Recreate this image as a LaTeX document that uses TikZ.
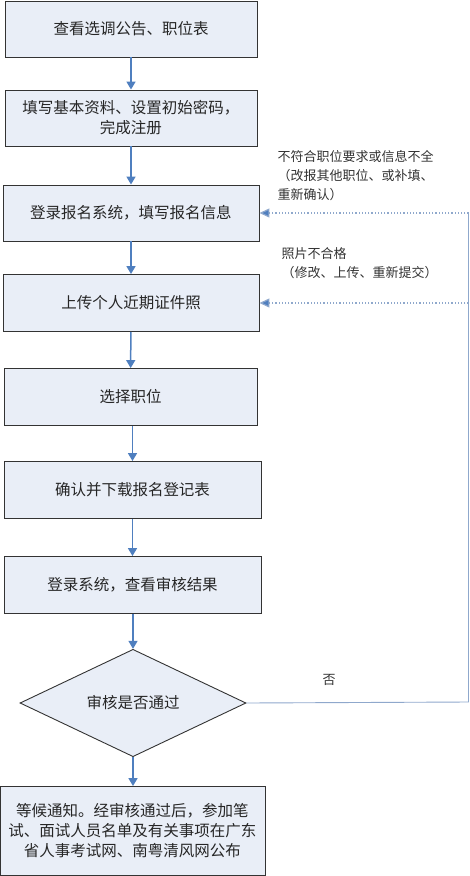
\documentclass[tikz,border=0pt]{standalone}
\usepackage{fontspec}
\usepackage{xcolor}
\usepackage{tikz}
\usetikzlibrary{arrows.meta,shapes.geometric}
\newfontfamily\cjk{Noto Sans CJK SC}
\definecolor{boxfill}{HTML}{E9EEF7}
\definecolor{flowblue}{HTML}{4F7FBF}
\definecolor{backline}{HTML}{8FA8CC}

\begin{document}
\begin{tikzpicture}[
  x=1pt, y=-1pt,
  font=\cjk\fontsize{15.5}{20}\selectfont,
  box/.style={draw=black!80, fill=boxfill, line width=0.9pt, align=center, inner sep=0pt, text=black!85},
  flow/.style={-{Triangle[length=8pt,width=9pt]}, line width=1.5pt, draw=flowblue},
  back/.style={line width=0.9pt, draw=backline},
  t/.style={font=\cjk\fontsize{13}{19}\selectfont, text=black!80, align=left, anchor=north west},
]
\useasboundingbox (0,0) rectangle (470,876);
\node[box, minimum width=252pt, minimum height=56pt] (look) at (131,29) {查看选调公告、职位表};
\node[box, minimum width=252pt, minimum height=56pt] (reg) at (131,118) {填写基本资料、设置初始密码，\\完成注册};
\node[box, minimum width=256pt, minimum height=56pt] (login) at (131,213) {登录报名系统，填写报名信息};
\node[box, minimum width=256pt, minimum height=57pt] (photo) at (131,303) {上传个人近期证件照};
\node[box, minimum width=253pt, minimum height=57pt] (post) at (130.5,397) {选择职位};
\node[box, minimum width=257pt, minimum height=57pt] (form) at (132.5,490) {确认并下载报名登记表};
\node[box, minimum width=257pt, minimum height=57pt] (result) at (132.5,585) {登录系统，查看审核结果};
\node[box, diamond, minimum width=226pt, minimum height=103pt] (check) at (133,703) {审核是否通过};
\node[box, minimum width=265pt, minimum height=89pt] (wait) at (132.5,831) {等候通知。经审核通过后，参加笔\\试、面试人员名单及有关事项在广东\\省人事考试网、南粤清风网公布};
% main flow
\draw[flow] (look) -- (reg);
\draw[flow] (reg) -- (login);
\draw[flow] (login) -- (photo);
\draw[flow] (photo) -- (post);
\draw[flow] (form.north |- post.south) -- (form.north);
\draw[flow] (form) -- (result);
\draw[flow] (check.north |- result.south) -- (check.north);
\draw[flow] (check.south) -- (check.south |- wait.north);
% return path
\coordinate (r3) at (468.5,213);
\coordinate (r4) at (468.5,303);
\coordinate (rd) at (468.5,702);
\draw[back] (check.east) -- (rd) -- (r3);
\draw[flow, line width=1.2pt, draw=backline, dotted, -{Triangle[length=10pt,width=9pt,fill=flowblue]}] (r3) -- (login.east);
\draw[flow, line width=1.2pt, draw=backline, dotted, -{Triangle[length=10pt,width=9pt,fill=flowblue]}] (r4) -- (photo.east);
\node[t] (nofit) at (274,147) {不符合职位要求或信息不全\\（改报其他职位、或补填、\\重新确认）};
\node[t] (badpic) at (278,244) {照片不合格\\（修改、上传、重新提交）};
\node[t, anchor=center] (no) at (329,680) {否};
\end{tikzpicture}
\end{document}
